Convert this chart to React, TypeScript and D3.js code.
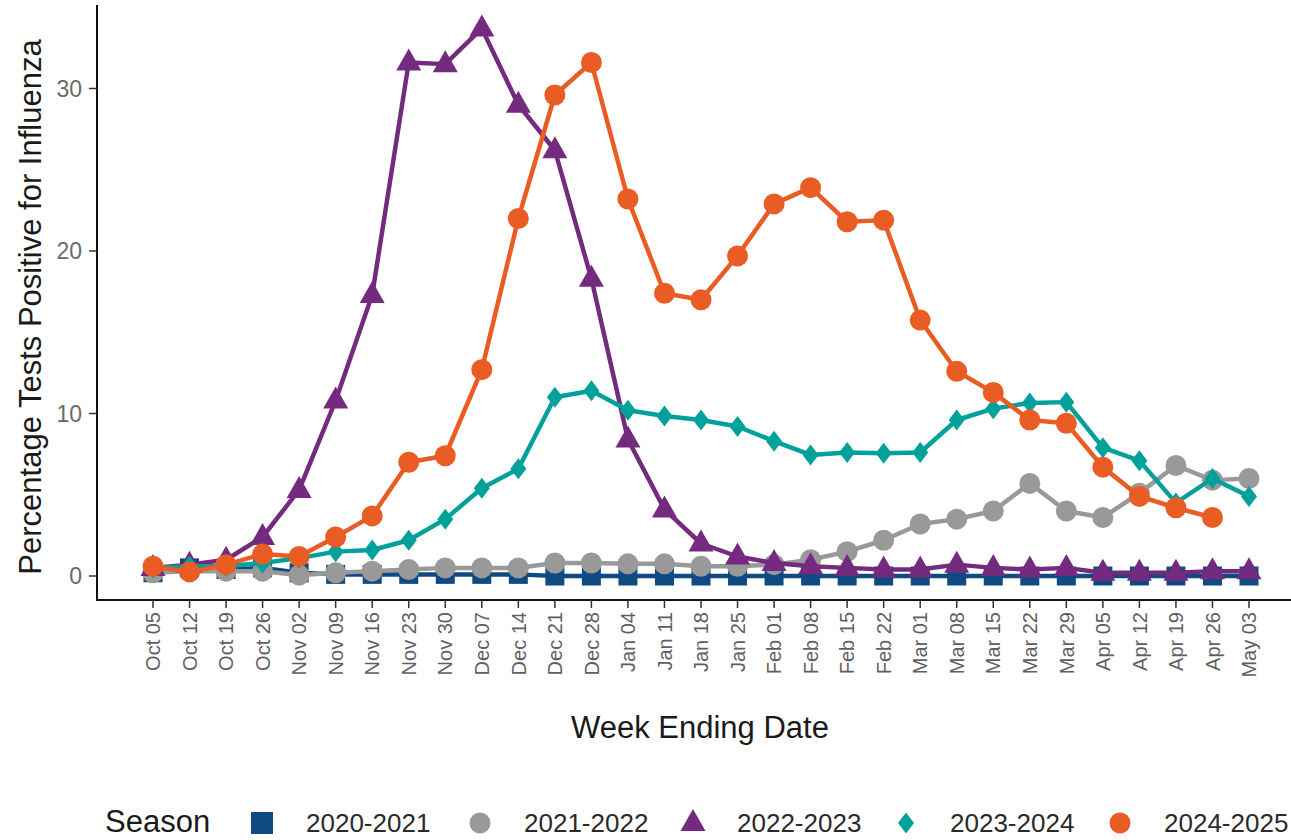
import React, { useRef, useEffect } from 'react';
import * as d3 from 'd3';

const weeks = ['Oct 05', 'Oct 12', 'Oct 19', 'Oct 26', 'Nov 02', 'Nov 09', 'Nov 16', 'Nov 23', 'Nov 30',
  'Dec 07', 'Dec 14', 'Dec 21', 'Dec 28', 'Jan 04', 'Jan 11', 'Jan 18', 'Jan 25', 'Feb 01', 'Feb 08',
  'Feb 15', 'Feb 22', 'Mar 01', 'Mar 08', 'Mar 15', 'Mar 22', 'Mar 29', 'Apr 05', 'Apr 12', 'Apr 19',
  'Apr 26', 'May 03'];

const s2020 = [0.2, 0.5, 0.4, 0.5, 0.2, 0.1, 0.1, 0.1, 0.1, 0.1, 0.1, 0, 0, 0, 0, 0, 0, 0, 0, 0, 0, 0, 0, 0, 0, 0, 0, 0, 0, 0, 0];
const s2021 = [0.2, 0.3, 0.3, 0.3, 0.05, 0.2, 0.3, 0.4, 0.5, 0.5, 0.5, 0.8, 0.8, 0.75, 0.75, 0.6, 0.6, 0.7, 1.0, 1.5, 2.2, 3.2, 3.5, 4.0, 5.7, 4.0, 3.6, 5.1, 6.8, 5.9, 6.0];
const s2022 = [0.5, 0.7, 1.0, 2.4, 5.3, 10.8, 17.3, 31.6, 31.5, 33.7, 29.0, 26.2, 18.3, 8.4, 4.1, 2.0, 1.2, 0.8, 0.6, 0.5, 0.4, 0.4, 0.7, 0.5, 0.4, 0.5, 0.2, 0.2, 0.2, 0.3, 0.3];
const s2023 = [0.5, 0.6, 0.6, 0.8, 1.1, 1.5, 1.6, 2.2, 3.5, 5.4, 6.6, 11.0, 11.4, 10.2, 9.85, 9.6, 9.2, 8.3, 7.45, 7.6, 7.55, 7.6, 9.6, 10.3, 10.65, 10.7, 7.9, 7.1, 4.5, 6.0, 4.9];
const s2024 = [0.6, 0.25, 0.7, 1.35, 1.2, 2.4, 3.7, 7.0, 7.4, 12.7, 22.0, 29.6, 31.6, 23.2, 17.4, 17.0, 19.7, 22.9, 23.9, 21.8, 21.9, 15.75, 12.6, 11.3, 9.6, 9.4, 6.7, 4.9, 4.2, 3.6, null];

const seasons = ['2020-2021', '2021-2022', '2022-2023', '2023-2024', '2024-2025'];
const yTicks = [0, 10, 20, 30];

const FONT = '"Liberation Sans", Arial, Helvetica, sans-serif';

function App() {
  const ref = useRef<SVGSVGElement>(null);

  useEffect(() => {
    const svg = d3.select(ref.current);
    svg.selectAll('*').remove();

    const series = [
      { name: seasons[0], values: s2020, color: '#0f4a83', shape: 'square' },
      { name: seasons[1], values: s2021, color: '#999999', shape: 'circle' },
      { name: seasons[2], values: s2022, color: '#742a7e', shape: 'triangle' },
      { name: seasons[3], values: s2023, color: '#00a19b', shape: 'diamond' },
      { name: seasons[4], values: s2024, color: '#e95c24', shape: 'circle' },
    ];

    // plot panel
    const left = 97, right = 1291, top = 5, bottom = 600;

    const x = d3.scalePoint<string>().domain(weeks).range([153, 1249]);
    const y = d3.scaleLinear().domain([0, 30]).range([576, 88.5]);

    // marker paths centred at 0,0
    const shapePath = (shape: string) => {
      if (shape === 'square') return 'M-9.5,-9.5H9.5V9.5H-9.5Z';
      if (shape === 'triangle') return 'M0,-14L12.5,8L-12.5,8Z';
      if (shape === 'diamond') return 'M0,-10.5L8,0L0,10.5L-8,0Z';
      return d3.symbol(d3.symbolCircle, Math.PI * 10.5 * 10.5)()!;
    };

    // axes
    const g = svg.append('g');
    g.append('line').attr('x1', left).attr('x2', left).attr('y1', top).attr('y2', bottom)
      .attr('stroke', '#111').attr('stroke-width', 2);
    g.append('line').attr('x1', left - 1).attr('x2', right).attr('y1', bottom).attr('y2', bottom)
      .attr('stroke', '#111').attr('stroke-width', 2);

    yTicks.forEach(t => {
      g.append('line').attr('x1', left - 8).attr('x2', left).attr('y1', y(t)).attr('y2', y(t))
        .attr('stroke', '#333').attr('stroke-width', 1.5);
      g.append('text').attr('x', left - 15).attr('y', y(t)).attr('dy', '0.36em')
        .attr('text-anchor', 'end').attr('font-family', FONT).attr('font-size', 23)
        .attr('fill', '#6a6a6a').text(t);
    });

    weeks.forEach(w => {
      const xx = x(w)!;
      g.append('line').attr('x1', xx).attr('x2', xx).attr('y1', bottom).attr('y2', bottom + 8)
        .attr('stroke', '#333').attr('stroke-width', 1.5);
      g.append('text').attr('transform', `translate(${xx},${bottom + 12}) rotate(-90)`)
        .attr('dy', '0.36em').attr('text-anchor', 'end').attr('font-family', FONT)
        .attr('font-size', 20).attr('fill', '#5f5f5f').text(w);
    });

    g.append('text').attr('x', 700).attr('y', 738).attr('text-anchor', 'middle')
      .attr('font-family', FONT).attr('font-size', 31).attr('fill', '#1a1a1a').text('Week Ending Date');
    g.append('text').attr('transform', 'translate(41,307) rotate(-90)').attr('text-anchor', 'middle')
      .attr('font-family', FONT).attr('font-size', 31).attr('fill', '#1a1a1a')
      .text('Percentage Tests Positive for Influenza');

    // lines and markers
    const line = d3.line<number | null>()
      .defined(d => d !== null)
      .x((_, i) => x(weeks[i])!)
      .y(d => y(d as number));

    series.forEach(s => {
      const sg = svg.append('g');
      sg.append('path').attr('d', line(s.values)).attr('fill', 'none')
        .attr('stroke', s.color).attr('stroke-width', 4.5).attr('stroke-linejoin', 'round');
      s.values.forEach((v, i) => {
        if (v === null) return;
        sg.append('path').attr('d', shapePath(s.shape))
          .attr('transform', `translate(${x(weeks[i])},${y(v)})`).attr('fill', s.color);
      });
    });

    // legend
    const lg = svg.append('g');
    lg.append('text').attr('x', 105).attr('y', 832).attr('font-family', FONT).attr('font-size', 31)
      .attr('fill', '#1a1a1a').text('Season');
    const keyX = [262, 480, 693, 906, 1120];
    series.forEach((s, i) => {
      const kx = keyX[i];
      let d = shapePath(s.shape);
      if (s.shape === 'square') d = 'M-11,-11H11V11H-11Z';
      lg.append('path').attr('d', d).attr('transform', `translate(${kx},823)`).attr('fill', s.color);
      lg.append('text').attr('x', kx + 44).attr('y', 832).attr('font-family', FONT).attr('font-size', 26)
        .attr('fill', '#2a2a2a').text(s.name);
    });
  }, []);

  return (
    <svg ref={ref} width={1291} height={840}
      style={{ position: 'absolute', left: 0, top: 0, background: '#fff' }} />
  );
}

export default App;
